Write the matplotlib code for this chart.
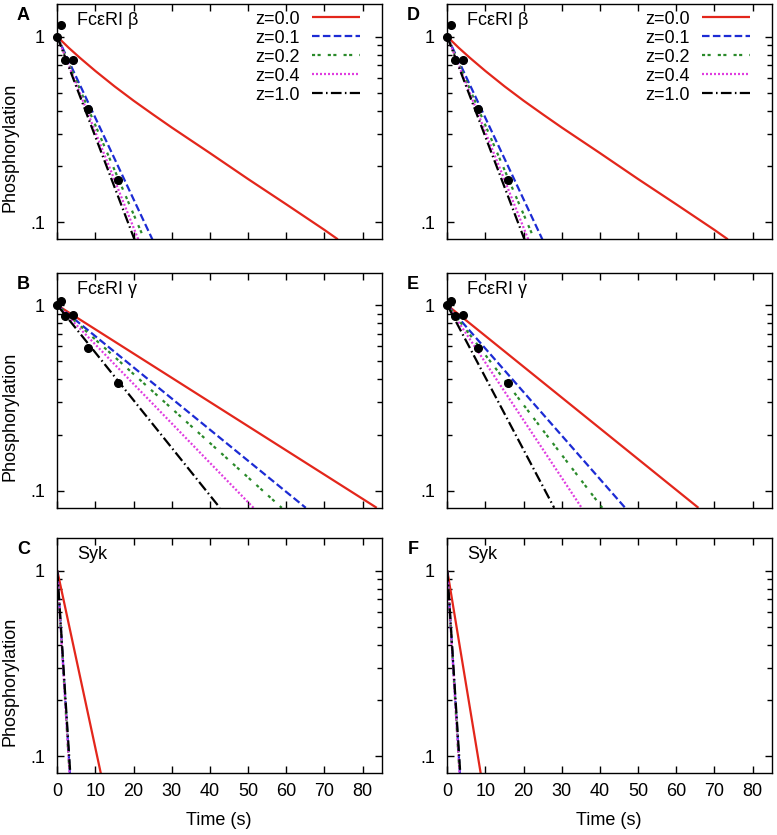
import numpy as np
import matplotlib
matplotlib.use('Agg')
import matplotlib.pyplot as plt

plt.rcParams['font.family'] = ['Liberation Sans', 'DejaVu Sans']
plt.rcParams['font.size'] = 13


# Measured phosphorylation (same points in both columns).
t_data = [0, 1, 2, 4, 8, 16]
beta_data = [1.0, 1.15, 0.75, 0.75, 0.41, 0.168]
gamma_data = [1.0, 1.05, 0.87, 0.89, 0.59, 0.38]

z_labels = ['z=0.0', 'z=0.1', 'z=0.2', 'z=0.4', 'z=1.0']

# Model curve for z=0.0 in the beta panels (bends on the log axis).
beta_t_z0 = [0, 3, 6, 10, 15, 20, 25, 30, 40, 50, 60, 70, 73.5]
beta_y_z0 = [1.0, 0.871, 0.767, 0.653, 0.540, 0.452, 0.382, 0.324,
             0.236, 0.171, 0.125, 0.091, 0.081]

# The other curves are straight on the log axis: they start at 1 and
# leave the bottom of the panel (0.081) at these times (s).
# order: z=0.0, 0.1, 0.2, 0.4, 1.0  (None -> use beta_t_z0 curve)
beta_end = [None, 24.9, 22.8, 21.2, 20.2]
gamma_end_left = [83.7, 65.1, 58.8, 51.4, 42.6]
gamma_end_right = [65.8, 46.6, 40.6, 35.2, 28.0]
syk_end_left = [11.4, 3.3, 3.2, 3.2, 3.4]
syk_end_right = [8.75, 3.3, 3.2, 3.2, 3.4]
y_start = 1.0
y_floor = 0.081

colors = ['#e3261b', '#1c2bd4', '#2a8a2a', '#e03ce0', 'black']
dashes = [(), (3.4, 1.5), (1.4, 1.1, 1.4, 3.2), (0.9, 0.9), (4.8, 1.5, 0.7, 1.5)]


fig = plt.figure(figsize=(7.77, 8.35), dpi=100)
W, H = 777.0, 835.0

col_left = [57.3, 447.3]
ax_w = 324.4
row_top = [4.0, 272.5, 538.0]
ax_h = 235.3

rows = [
    ('FcεRI β', [beta_end, beta_end], beta_data),
    ('FcεRI γ', [gamma_end_left, gamma_end_right], gamma_data),
    ('Syk', [syk_end_left, syk_end_right], None),
]
letters = [['A', 'D'], ['B', 'E'], ['C', 'F']]

for r, (name, ends_by_col, pts) in enumerate(rows):
    for c in range(2):
        left = col_left[c] / W
        bottom = 1 - (row_top[r] + ax_h) / H
        ax = fig.add_axes([left, bottom, ax_w / W, ax_h / H])
        ax.set_yscale('log')

        ends = ends_by_col[c]
        for i in range(5):
            if ends[i] is None:
                tt, yy = beta_t_z0, beta_y_z0
            else:
                tt, yy = [0, ends[i]], [y_start, y_floor]
            line, = ax.plot(tt, yy, color=colors[i], lw=1.6,
                            label=z_labels[i], solid_capstyle='butt')
            if dashes[i]:
                line.set_dashes(dashes[i])

        if pts is not None:
            ax.plot(t_data, pts, 'o', color='black', ms=5.5,
                    clip_on=False, zorder=5)

        ax.set_xlim(0, 85)
        ax.set_ylim(0.081, 1.5)
        ax.set_xticks(range(0, 81, 10))
        ax.set_yticks([0.1, 1], ['.1', '1'])
        ax.set_yticks([0.2, 0.3, 0.4, 0.5, 0.6, 0.7, 0.8, 0.9], minor=True)
        ax.yaxis.set_minor_formatter(plt.NullFormatter())
        ax.tick_params(which='both', direction='in', top=True, right=True,
                       width=1)
        ax.tick_params(which='major', length=5)
        ax.tick_params(which='minor', length=3.5)
        ax.tick_params(axis='y', pad=9)
        ax.tick_params(axis='x', pad=7)
        for sp in ax.spines.values():
            sp.set_linewidth(1)

        if r < 2:
            ax.set_xticklabels([])
        else:
            ax.set_xlabel('Time (s)')
            ax.xaxis.set_label_coords(0.497, -0.163)
        if c == 0:
            ax.set_ylabel('Phosphorylation')
            ax.yaxis.set_label_coords(-0.12, 0.39)

        ax.text(0.061, 0.928, name, transform=ax.transAxes,
                ha='left', va='center')

        if r == 0:
            ax.legend(loc='upper right', bbox_to_anchor=(0.933, 0.972),
                      frameon=False, markerfirst=False, borderpad=0,
                      borderaxespad=0, labelspacing=0.11,
                      handlelength=2.65, handletextpad=0.7)

        fig.text((col_left[c] - 34) / W, 1 - (row_top[r] + 12) / H,
                 letters[r][c], fontweight='bold', ha='center', va='center')

fig.savefig('out.png', dpi=100)
